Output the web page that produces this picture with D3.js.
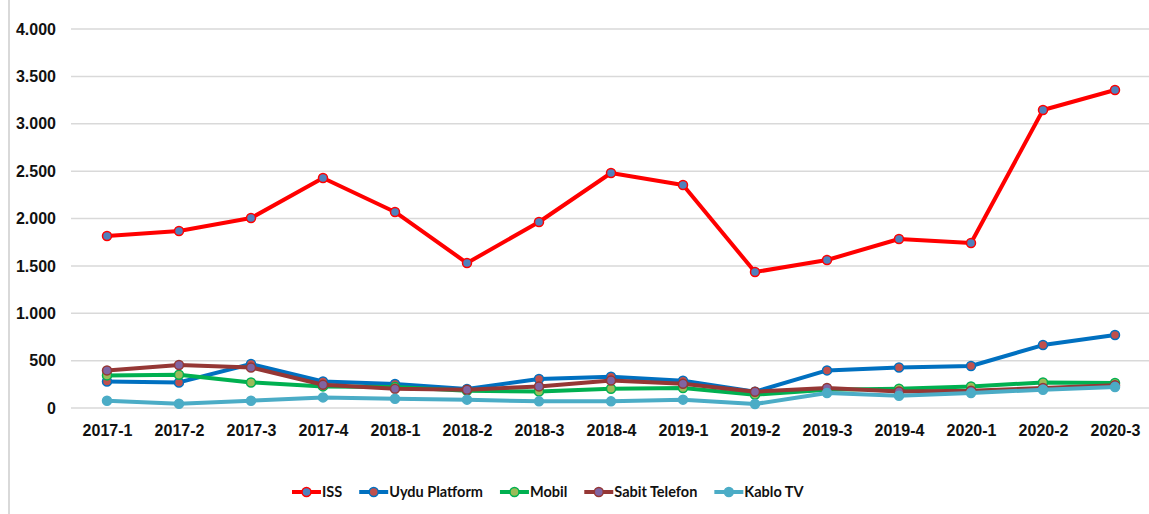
<!DOCTYPE html>
<html>
<head>
<meta charset="utf-8">
<script src="https://cdn.jsdelivr.net/npm/d3@7"></script>
<style>
  body { margin: 0; background: #fff; }
  svg { display: block; font-family: Lato, "Open Sans", sans-serif; }
  .tick text { font-weight: bold; fill: #111; }
</style>
</head>
<body>
<div id="chart"></div>
<script>
const periods = ["2017-1","2017-2","2017-3","2017-4","2018-1","2018-2","2018-3","2018-4",
  "2019-1","2019-2","2019-3","2019-4","2020-1","2020-2","2020-3"];

const iss = [1815,1868,2005,2427,2069,1530,1963,2480,2353,1435,1562,1784,1741,3145,3356];
const uydu = [280,270,464,280,253,200,306,330,288,172,397,428,443,664,770];
const mobil = [344,351,270,228,221,182,175,204,211,140,193,204,228,270,264];
const sabit = [397,453,428,246,204,193,228,291,256,172,211,175,182,211,240];
const kablo = [77,45,77,112,98,88,70,70,88,42,158,130,158,193,221];

const yTicks = [0,500,1000,1500,2000,2500,3000,3500,4000];

const series = [
  {name: "ISS", values: iss, line: "#ff0000", fill: "#4f81bd"},
  {name: "Uydu Platform", values: uydu, line: "#0070c0", fill: "#c0504d"},
  {name: "Mobil", values: mobil, line: "#00b050", fill: "#9bbb59"},
  {name: "Sabit Telefon", values: sabit, line: "#953735", fill: "#8064a2"},
  {name: "Kablo TV", values: kablo, line: "#4bacc6", fill: "#4bacc6"}
];

const W = 1149, H = 514;
const margin = {top: 29, right: -2, bottom: 106, left: 71};
const width = W - margin.left - margin.right;
const height = H - margin.top - margin.bottom;

const svg = d3.select("#chart").append("svg")
  .attr("width", W)
  .attr("height", H);

// frame line on the left
svg.append("rect")
  .attr("x", 8).attr("y", 0)
  .attr("width", 2).attr("height", H)
  .attr("fill", "#d9d9d9");

const g = svg.append("g")
  .attr("transform", "translate(" + margin.left + "," + margin.top + ")");

const x = d3.scalePoint()
  .domain(periods)
  .range([0, width])
  .padding(0.5);

const y = d3.scaleLinear()
  .domain([0, 4000])
  .range([height, 0]);

const fmt = d3.formatLocale({decimal: ",", thousands: ".", grouping: [3], currency: ["", ""]}).format(",d");

// gridlines
g.append("g")
  .selectAll("line")
  .data(yTicks)
  .join("line")
  .attr("x1", 0).attr("x2", width)
  .attr("y1", d => y(d)).attr("y2", d => y(d))
  .attr("stroke", "#d9d9d9")
  .attr("stroke-width", 1.5);

// y axis labels
const yAxis = g.append("g")
  .call(d3.axisLeft(y).tickValues(yTicks).tickFormat(fmt).tickSize(0).tickPadding(15));
yAxis.select(".domain").remove();
yAxis.selectAll("text").attr("font-size", 16);

// x axis labels
const xAxis = g.append("g")
  .attr("transform", "translate(0," + height + ")")
  .call(d3.axisBottom(x).tickSize(0).tickPadding(17));
xAxis.select(".domain").remove();
xAxis.selectAll("text").attr("font-size", 16);

const line = d3.line()
  .x((d, i) => x(periods[i]))
  .y(d => y(d));

series.forEach(function (s) {
  const sg = g.append("g");
  sg.append("path")
    .attr("d", line(s.values))
    .attr("fill", "none")
    .attr("stroke", s.line)
    .attr("stroke-width", 4)
    .attr("stroke-linejoin", "round");
  sg.selectAll("circle")
    .data(s.values)
    .join("circle")
    .attr("cx", (d, i) => x(periods[i]))
    .attr("cy", d => y(d))
    .attr("r", 4.5)
    .attr("fill", s.fill)
    .attr("stroke", s.line)
    .attr("stroke-width", 1.5);
});

// legend
const legend = svg.append("g")
  .attr("transform", "translate(0,492)");
let lx = 292;
series.forEach(function (s) {
  const item = legend.append("g").attr("transform", "translate(" + lx + ",0)");
  item.append("line")
    .attr("x1", 0).attr("x2", 29)
    .attr("stroke", s.line)
    .attr("stroke-width", 4);
  item.append("circle")
    .attr("cx", 14.5).attr("r", 4.5)
    .attr("fill", s.fill)
    .attr("stroke", s.line)
    .attr("stroke-width", 1.5);
  const t = item.append("text")
    .attr("x", 30)
    .attr("dy", "0.35em")
    .attr("font-size", 14.5)
    .attr("font-weight", "bold")
    .attr("fill", "#111")
    .text(s.name);
  lx += 30 + t.node().getComputedTextLength() + 17;
});
</script>
</body>
</html>
